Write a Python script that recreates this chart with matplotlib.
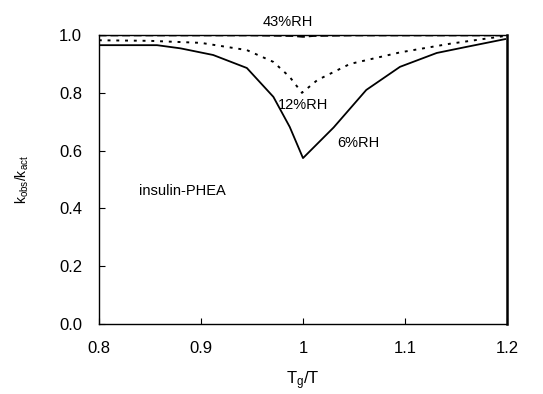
import matplotlib.pyplot as plt

plt.rcParams['font.family'] = ['Liberation Sans', 'DejaVu Sans']

# 6 %RH (solid)
x_6 = [0.80, 0.857, 0.88, 0.912, 0.945, 0.971, 0.987, 1.0, 1.03, 1.062, 1.095, 1.131, 1.16, 1.198]
y_6 = [0.965, 0.965, 0.954, 0.931, 0.886, 0.786, 0.682, 0.574, 0.68, 0.81, 0.89, 0.938, 0.959, 0.986]

# 12 %RH (dotted)
x_12 = [0.80, 0.85, 0.90, 0.945, 0.971, 0.987, 0.999, 1.014, 1.046, 1.095, 1.144, 1.20]
y_12 = [0.982, 0.980, 0.973, 0.948, 0.907, 0.855, 0.800, 0.844, 0.90, 0.94, 0.97, 0.998]

# 43 %RH (dashed, almost flat)
x_43 = [0.80, 0.95, 0.99, 1.0, 1.01, 1.05, 1.20]
y_43 = [0.999, 0.999, 0.997, 0.994, 0.997, 0.999, 0.999]

fig = plt.figure(figsize=(5.43, 3.94), dpi=100)
ax = fig.add_axes([0.182, 0.178, 0.752, 0.733])

ax.plot(x_6, y_6, color='black', lw=1.3)
ax.plot(x_12, y_12, color='black', lw=1.4, linestyle=(0, (1.5, 3)))
ax.plot(x_43, y_43, color='black', lw=1.4, linestyle=(0, (4, 2)))

ax.set_xlim(0.8, 1.2)
ax.set_ylim(0.0, 1.0)
ax.set_xticks([0.8, 0.9, 1.0, 1.1, 1.2])
ax.set_xticklabels(['0.8', '0.9', '1', '1.1', '1.2'])
ax.set_yticks([0.0, 0.2, 0.4, 0.6, 0.8, 1.0])
ax.set_yticklabels(['0.0', '0.2', '0.4', '0.6', '0.8', '1.0'])
ax.tick_params(direction='in', length=4, width=0.8, labelsize=12, pad=12)

for side in ['left', 'bottom', 'top']:
    ax.spines[side].set_linewidth(1.0)
ax.spines['right'].set_linewidth(1.8)

ax.text(0.985, 1.045, '43%RH', ha='center', va='center', fontsize=10.5)
ax.text(0.975, 0.758, '12%RH', ha='left', va='center', fontsize=10.5)
ax.text(1.034, 0.626, '6%RH', ha='left', va='center', fontsize=10.5)
ax.text(0.839, 0.46, 'insulin-PHEA', ha='left', va='center', fontsize=10.5)

ax.set_xlabel(r'$\mathregular{T_g/T}$', fontsize=12, labelpad=10)
ax.set_ylabel(r'$\mathregular{k_{obs}/k_{act}}$', fontsize=10, labelpad=20)

fig.savefig('out.png', dpi=100)
